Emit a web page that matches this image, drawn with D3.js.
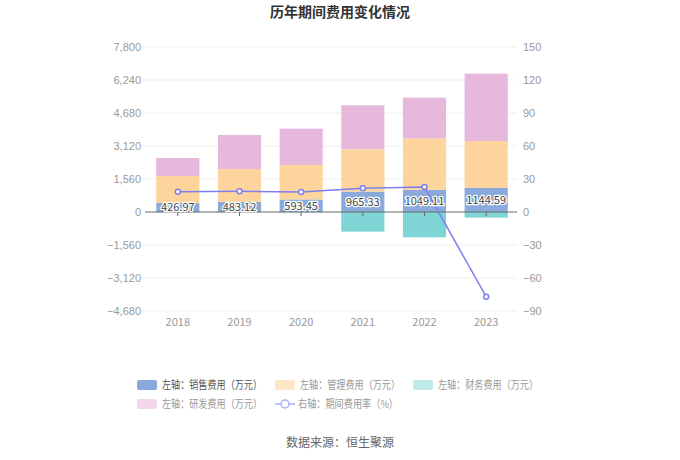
<!DOCTYPE html>
<html><head><meta charset="utf-8">
<script src="https://cdn.jsdelivr.net/npm/d3@7"></script>
<style>body{margin:0;background:#fff}svg{font-family:"Noto Sans CJK SC","Noto Sans",sans-serif}</style>
</head><body><svg id="c" width="680" height="460"></svg>
<script>
const years = ["2018","2019","2020","2021","2022","2023"];
const sales = [426.97, 483.12, 593.45, 965.33, 1049.11, 1144.59];
const mgmt = [1275, 1550, 1629, 1998, 2434, 2212];
const fin = [-12, -8, -10, -930, -1197, -268];
const rnd = [851, 1608, 1718, 2080, 1922, 3183];
const rate = [18.5, 18.8, 18.2, 21.5, 22.7, -77.0];
const leftTicks = [-4680, -3120, -1560, 0, 1560, 3120, 4680, 6240, 7800];
const rightTicks = [-90, -60, -30, 0, 30, 60, 90, 120, 150];
const seriesNames = ["左轴：销售费用（万元）","左轴：管理费用（万元）","左轴：财务费用（万元）","左轴：研发费用（万元）","右轴：期间费用率（%）"];

const colors = {sales:"#8aaadb", mgmt:"#fdd59c", fin:"#7fd5d5", rnd:"#e6b9dc", line:"#7b80ee"};
const svg = d3.select("#c");
const L = 147, R = 517, T = 47, B = 311;
const x = d3.scaleBand().domain(years).range([L, R]).paddingInner(0.3).paddingOuter(0.15);
const xc = d => x(d) + x.bandwidth()/2;
const y = d3.scaleLinear().domain([-4680, 7800]).range([B, T]);
const y2 = d3.scaleLinear().domain([-90, 150]).range([B, T]);

svg.append("text").attr("x",340).attr("y",17).attr("text-anchor","middle")
  .attr("font-size",14).attr("font-weight","bold").attr("fill","#333").text("历年期间费用变化情况");

// gridlines
svg.append("g").selectAll("line").data(leftTicks.filter(d=>d!==0)).join("line")
  .attr("x1",L-4).attr("x2",R).attr("y1",d=>y(d)).attr("y2",d=>y(d)).attr("stroke","#efefef");

// left axis labels
const yAx = d3.axisLeft(y).tickValues(leftTicks).tickSize(0).tickPadding(0).tickFormat(d3.format(","));
const gy = svg.append("g").attr("transform",`translate(${L-6},0)`).call(yAx);
gy.select(".domain").remove();
gy.selectAll("text").attr("fill","#999").attr("font-size",11).attr("font-family","inherit");

const yAx2 = d3.axisRight(y2).tickValues(rightTicks).tickSize(0).tickPadding(0);
const gy2 = svg.append("g").attr("transform",`translate(${R+6},0)`).call(yAx2);
gy2.select(".domain").remove();
gy2.selectAll("text").attr("fill","#999").attr("font-size",11).attr("font-family","inherit");

// stacked bars
const bw = x.bandwidth();
years.forEach((yr,i)=>{
  let base = 0;
  [[sales,colors.sales],[mgmt,colors.mgmt],[rnd,colors.rnd]].forEach(([arr,c])=>{
    const v = arr[i];
    svg.append("rect").attr("x",x(yr)).attr("width",bw)
      .attr("y",y(base+v)).attr("height",y(base)-y(base+v)).attr("fill",c);
    base += v;
  });
  const f = fin[i];
  svg.append("rect").attr("x",x(yr)).attr("width",bw)
    .attr("y",y(0)).attr("height",Math.max(0,y(f)-y(0))).attr("fill",colors.fin);
});

// x axis
svg.append("line").attr("x1",L-2).attr("x2",R).attr("y1",y(0)).attr("y2",y(0)).attr("stroke","#666");
svg.append("g").selectAll("line").data(years).join("line")
  .attr("x1",d=>xc(d)).attr("x2",d=>xc(d)).attr("y1",y(0)).attr("y2",y(0)+4).attr("stroke","#666");
svg.append("g").selectAll("text").data(years).join("text")
  .attr("x",d=>xc(d)).attr("y",326).attr("text-anchor","middle").attr("font-size",11).attr("fill","#999").text(d=>d);

// line
const line = d3.line().x((d,i)=>xc(years[i])).y(d=>y2(d));
svg.append("path").attr("d",line(rate)).attr("fill","none").attr("stroke",colors.line).attr("stroke-width",1.5);
svg.append("g").selectAll("circle").data(rate).join("circle")
  .attr("cx",(d,i)=>xc(years[i])).attr("cy",d=>y2(d)).attr("r",2.5)
  .attr("fill","#fff").attr("stroke",colors.line).attr("stroke-width",1.5);

// labels
svg.append("g").selectAll("text").data(sales).join("text")
  .attr("x",(d,i)=>xc(years[i])).attr("y",d=>(y(d)+y(0))/2+4)
  .attr("text-anchor","middle").attr("font-size",11).attr("fill","#444")
  .attr("stroke","#fff").attr("stroke-width",2.5).attr("paint-order","stroke").attr("stroke-linejoin","round")
  .text(d=>d3.format(".2f")(d));

// legend
const lg = [
  {n:seriesNames[0], c:"#88a9dc", t:"#555", x:137, y:385, type:"rect"},
  {n:seriesNames[1], c:"#fde6c4", t:"#999", x:275, y:385, type:"rect"},
  {n:seriesNames[2], c:"#bfeaea", t:"#999", x:413, y:385, type:"rect"},
  {n:seriesNames[3], c:"#f3d6ec", t:"#999", x:137, y:404, type:"rect"},
  {n:seriesNames[4], c:"#aaaef5", t:"#999", x:275, y:404, type:"line"}
];
lg.forEach(d=>{
  const g = svg.append("g");
  if(d.type==="rect"){
    g.append("rect").attr("x",d.x).attr("y",d.y-5).attr("width",20).attr("height",10).attr("rx",2).attr("fill",d.c);
  } else {
    g.append("line").attr("x1",d.x).attr("x2",d.x+20).attr("y1",d.y).attr("y2",d.y).attr("stroke",d.c).attr("stroke-width",1.5);
    g.append("circle").attr("cx",d.x+10).attr("cy",d.y).attr("r",4).attr("fill","#fff").attr("stroke",d.c).attr("stroke-width",1.5);
  }
  g.append("text").attr("x",d.type==="rect"?d.x+25:d.x+23).attr("y",d.y+4).attr("font-size",11).attr("fill",d.t)
    .attr("textLength",100).attr("lengthAdjust","spacingAndGlyphs").text(d.n);
});

svg.append("text").attr("x",340).attr("y",447).attr("text-anchor","middle").attr("font-size",12).attr("fill","#666").text("数据来源：恒生聚源");
</script></body></html>
